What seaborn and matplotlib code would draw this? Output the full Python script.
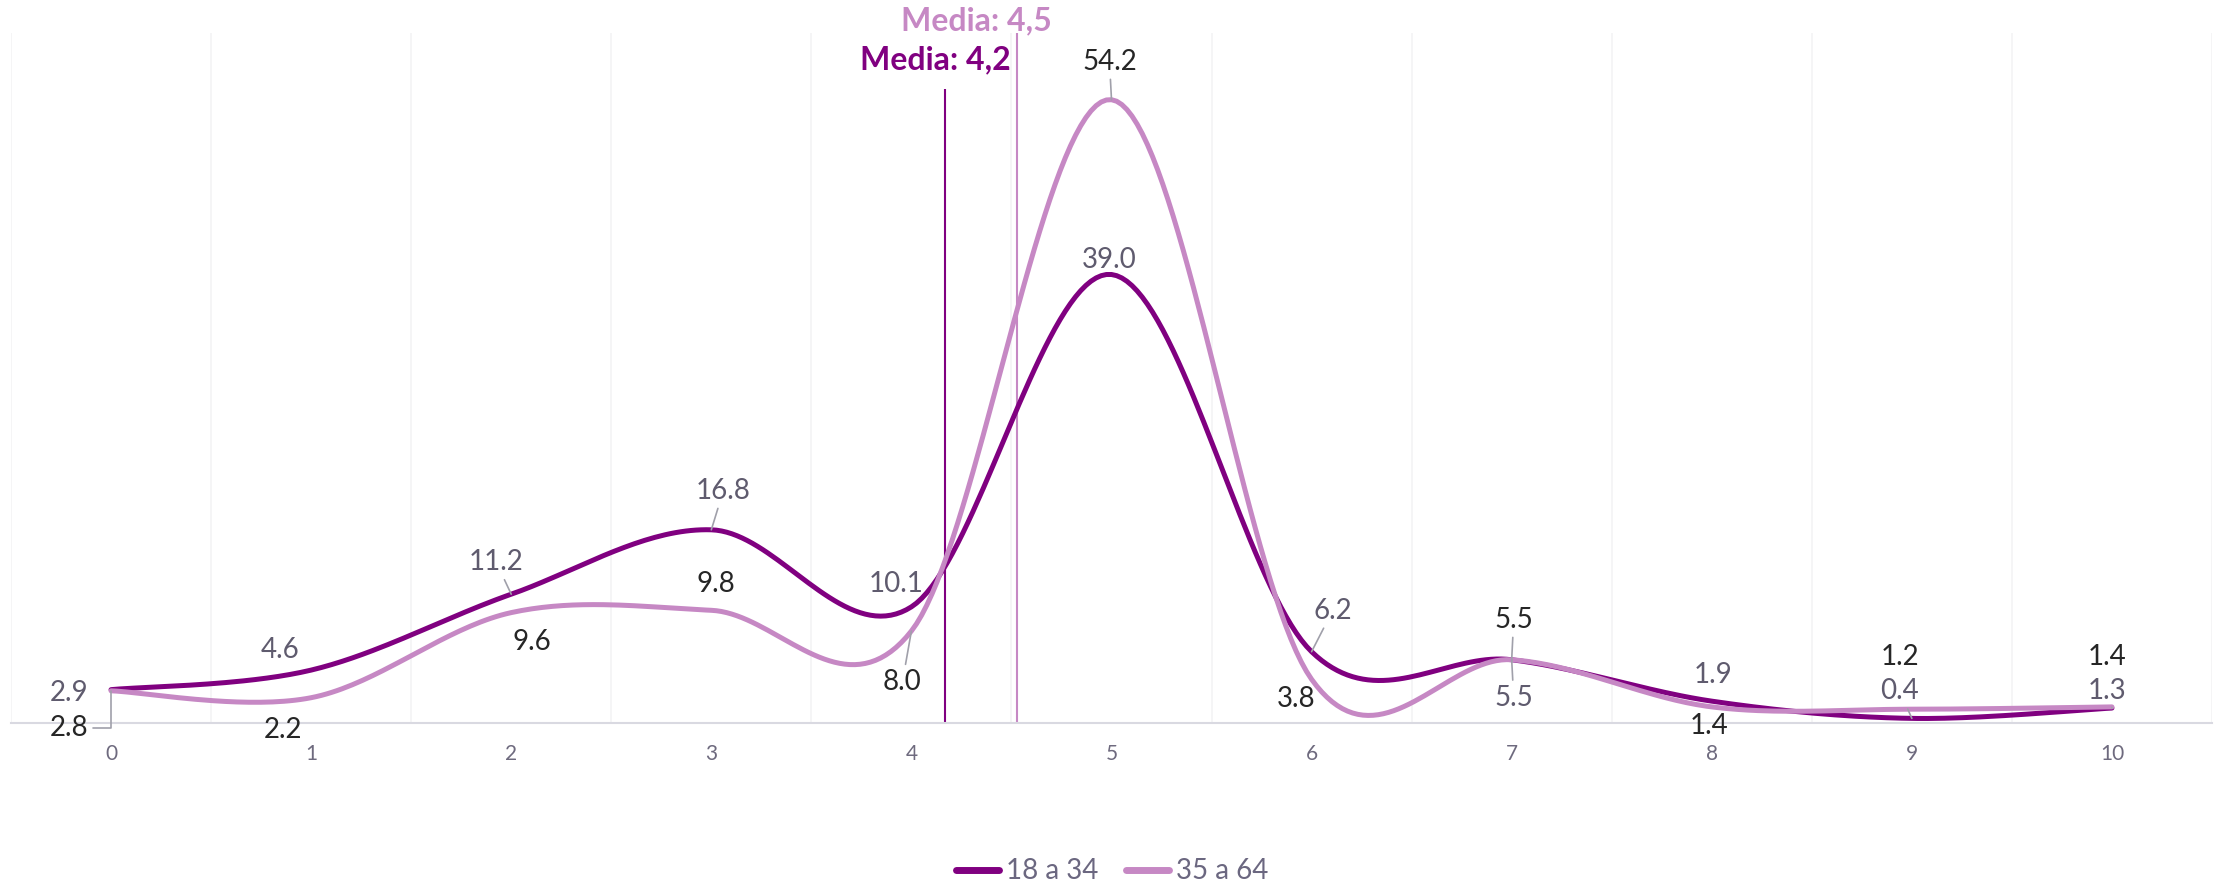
import numpy as np
import pandas as pd
import matplotlib.pyplot as plt
import seaborn as sns

# datos
puntos = list(range(11))
serie_18_34 = [2.9, 4.6, 11.2, 16.8, 10.1, 39.0, 6.2, 5.5, 1.9, 0.4, 1.3]
serie_35_64 = [2.8, 2.2, 9.6, 9.8, 8.0, 54.2, 3.8, 5.5, 1.4, 1.2, 1.4]
grupos = ['18 a 34', '35 a 64']
colores = ['#800080', '#c688c4']
medias = [4.17, 4.53]
medias_txt = ['Media: 4,2', 'Media: 4,5']

# desplazamiento de etiquetas en píxeles (x, y hacia arriba) y si llevan conector
desp_18_34 = [(-42, -3), (-31, 20), (-15, 32), (12, 39), (-15, 23), (-2, 15),
              (21, 41), (2, -38), (1, 26), (-12, 27), (-5, 17)]
con_18_34 = [0, 0, 1, 1, 0, 0, 1, 1, 0, 1, 1]
desp_35_64 = [(-42, -37), (-28, -32), (21, -29), (5, 26), (-9, -51), (-2, 38),
              (-15, -20), (2, 40), (-3, -19), (-12, 52), (-5, 50)]
con_35_64 = [2, 0, 0, 0, 1, 1, 0, 1, 0, 0, 0]
color_etiqueta = ['#5f5b6e', '#262626']

sns.set_style('white')
plt.rcParams['font.family'] = ['Lato', 'DejaVu Sans']


def spline(xs, ys, n=40):
    # curva suave Catmull-Rom (Bezier cúbico entre puntos)
    p = np.column_stack([np.asarray(xs, float), np.asarray(ys, float)])
    ext = np.vstack([p[:1], p, p[-1:]])
    t = np.linspace(0, 1, n)[:, None]
    trozos = []
    for i in range(len(p) - 1):
        p0, p3 = p[i], p[i + 1]
        c1 = p0 + (ext[i + 2] - ext[i]) / 6
        c2 = p3 - (ext[i + 3] - ext[i + 1]) / 6
        seg = (1 - t) ** 3 * p0 + 3 * (1 - t) ** 2 * t * c1 + 3 * (1 - t) * t ** 2 * c2 + t ** 3 * p3
        trozos.append(seg if i == 0 else seg[1:])
    return np.vstack(trozos)


frames = []
for g, vals in zip(grupos, [serie_18_34, serie_35_64]):
    c = spline(puntos, vals)
    frames.append(pd.DataFrame({'x': c[:, 0], 'y': c[:, 1], 'grupo': g}))
df = pd.concat(frames, ignore_index=True)

fig = plt.figure(figsize=(22.24, 8.88), dpi=100)
ax = fig.add_axes([11 / 2224, 165 / 888, 2201 / 2224, 690 / 888])

for xg in np.arange(-0.5, 11, 1):
    ax.axvline(xg, color='#f3f3f5', lw=1.2, zorder=0)

sns.lineplot(data=df, x='x', y='y', hue='grupo', palette=colores, lw=3.6,
             sort=False, estimator=None, ax=ax, zorder=3)

# líneas de media
ax.vlines(medias, 0, [55.1, 60], colors=colores, lw=1.5, zorder=2)
for m, txt, col, off in zip(medias, medias_txt, colores, [(-10, -27), (-41, 12)]):
    ax.annotate(txt, xy=(m, 60), xytext=off, textcoords='offset pixels',
                ha='center', va='center', fontsize=23, fontweight='bold',
                color=col, annotation_clip=False)

# etiquetas de datos
for vals, desps, cons, col in [(serie_18_34, desp_18_34, con_18_34, color_etiqueta[0]),
                               (serie_35_64, desp_35_64, con_35_64, color_etiqueta[1])]:
    for x, v, d, c in zip(puntos, vals, desps, cons):
        props = None
        if c == 1:
            props = dict(arrowstyle='-', color='#a0a0aa', lw=1.2, shrinkA=1, shrinkB=0)
        elif c == 2:
            props = dict(arrowstyle='-', color='#a0a0aa', lw=1.2, shrinkA=1, shrinkB=0,
                         connectionstyle='angle,angleA=0,angleB=90,rad=0')
        ax.annotate(f'{v:.1f}', xy=(x, v), xytext=d, textcoords='offset pixels',
                    ha='center', va='center', fontsize=20, color=col,
                    arrowprops=props, annotation_clip=False, zorder=4)

ax.set_xlim(-0.5, 10.5)
ax.set_ylim(0, 60)
ax.set_xticks(puntos)
ax.set_xticklabels([str(p) for p in puntos])
ax.set_yticks([])
ax.set_xlabel('')
ax.set_ylabel('')
ax.tick_params(axis='x', length=0, pad=15, labelsize=15, colors='#6e6a7e')
for s in ['top', 'left', 'right']:
    ax.spines[s].set_visible(False)
ax.spines['bottom'].set_color('#d9d9e1')
ax.spines['bottom'].set_linewidth(1.5)

handles, labels = ax.get_legend_handles_labels()
leg = ax.legend(handles, labels, loc='lower center', bbox_to_anchor=(0.5, -0.024),
                bbox_transform=fig.transFigure, frameon=False, ncol=2, fontsize=20,
                handlelength=1.55, columnspacing=1.0, handletextpad=0.25,
                labelcolor='#6b6780')
for h in leg.legend_handles:
    h.set_linewidth(5)
    h.set_solid_capstyle('round')

plt.savefig('out.png', dpi=100)
